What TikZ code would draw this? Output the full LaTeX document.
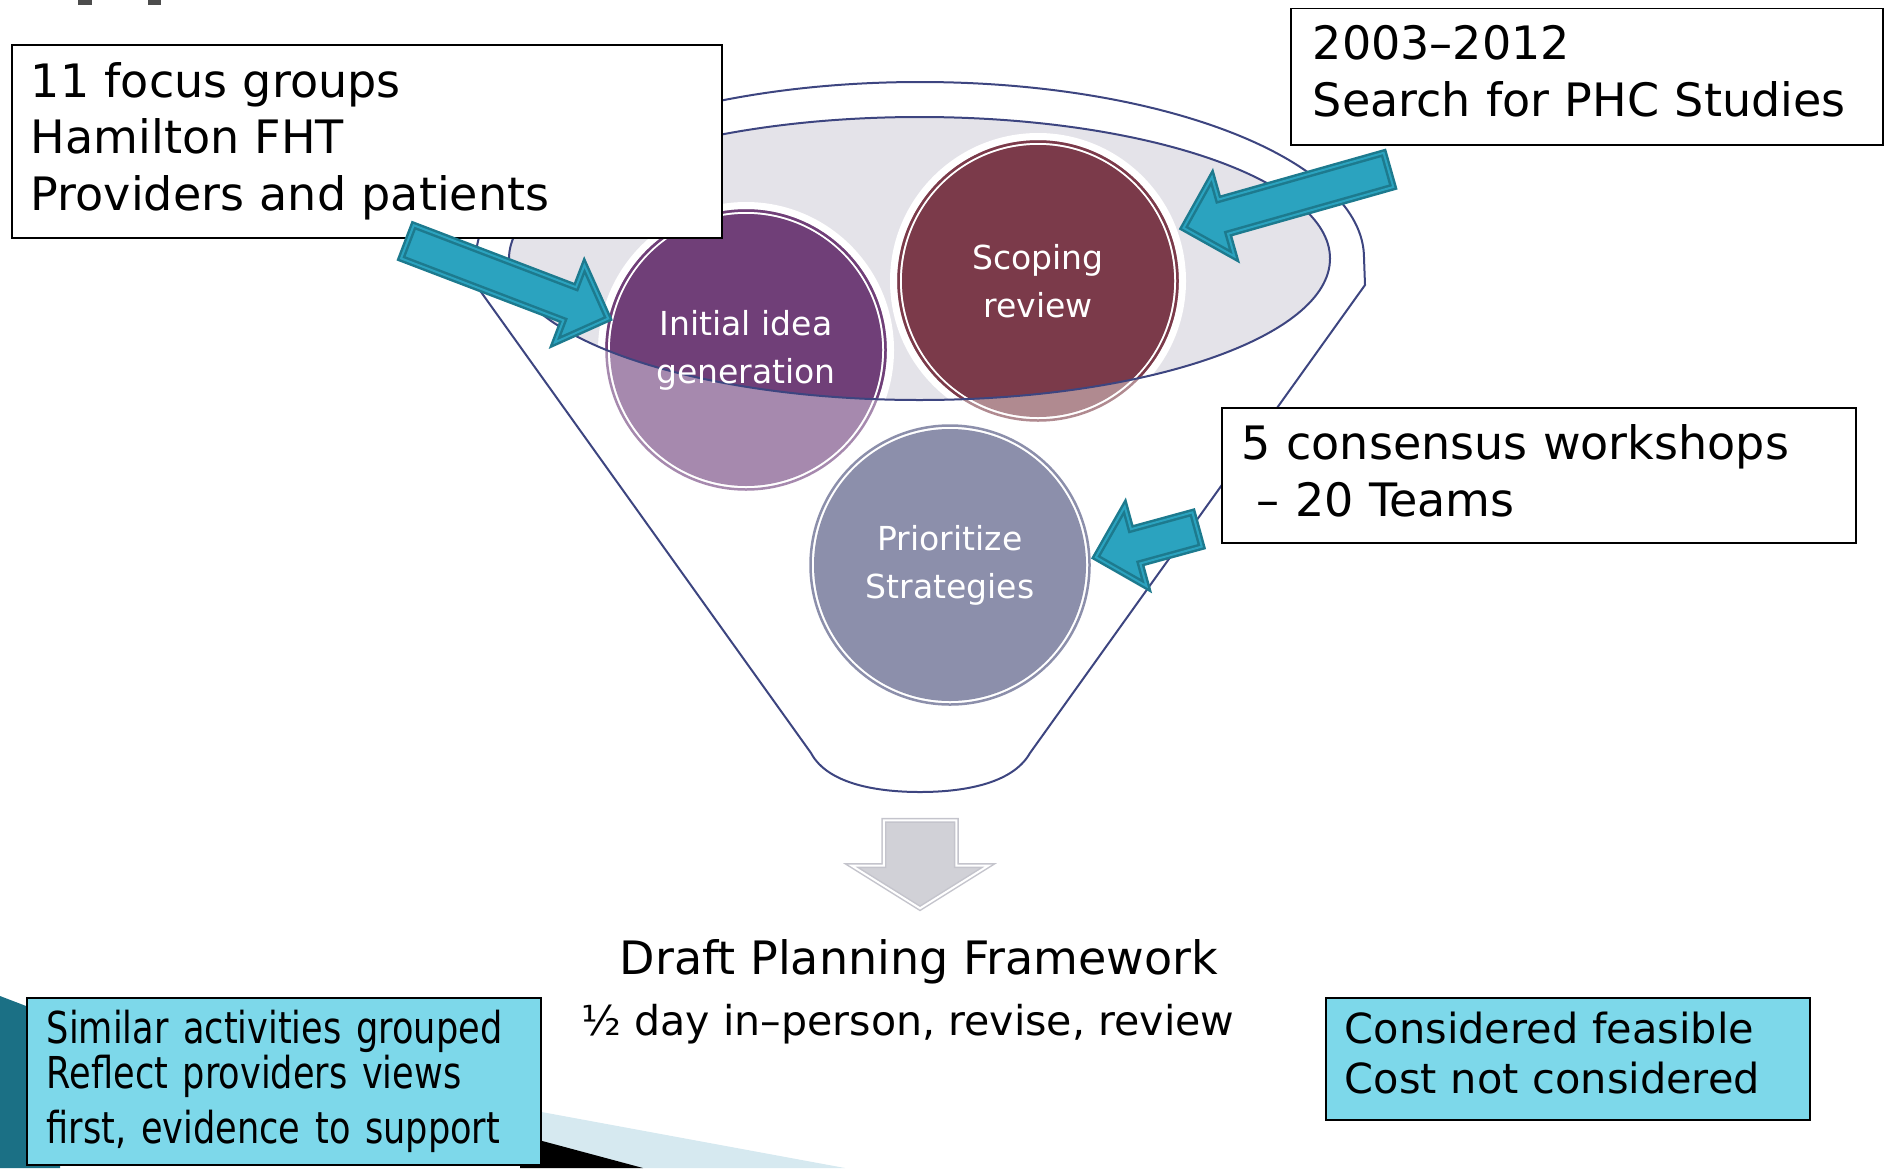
\documentclass[tikz,border=0pt]{standalone}
\usepackage{fontspec}
\setmainfont{DejaVu Sans}
\newfontfamily\narrowfont{DejaVu Sans}[FakeStretch=0.8]
\usetikzlibrary{shapes.arrows}

\definecolor{funnelblue}{HTML}{3D4580}
\definecolor{rimgrey}{HTML}{E4E3E9}
\definecolor{ideadark}{HTML}{703F78}
\definecolor{idealight}{HTML}{A689AE}
\definecolor{scopedark}{HTML}{7B3A4A}
\definecolor{scopelight}{HTML}{B08A90}
\definecolor{priofill}{HTML}{8C8FAB}
\definecolor{arrowfill}{HTML}{2BA3BF}
\definecolor{arrowedge}{HTML}{1D7A8E}
\definecolor{notecyan}{HTML}{7DD8EA}
\definecolor{downgrey}{HTML}{D1D1D7}
\definecolor{downedge}{HTML}{C4C4CC}
\definecolor{slideteal}{HTML}{1B7085}
\definecolor{slidepale}{HTML}{D6E9F0}

\begin{document}
\begin{tikzpicture}[x=0.1mm, y=-0.1mm,
  funnel/.style={draw=funnelblue, line width=0.2mm},
  stagetext/.style={text=white, align=center, font=\fontsize{9.4}{13.7}\selectfont},
  notebox/.style={draw=black, line width=0.15mm, fill=white, anchor=north west,
    align=left, inner sep=0pt, font=\fontsize{13.1}{16.2}\selectfont},
  cyanbox/.style={notebox, fill=notecyan},
  pointer/.style={single arrow, fill=arrowfill, draw=arrowedge, double=arrowfill,
    line width=0.25mm, double distance=0.2mm, inner sep=0pt, inner ysep=1.65mm,
    single arrow head extend=2.35mm}
]
  \useasboundingbox (0,0) rectangle (1884,1168);

  %% Slide decoration
  \fill[black!70] (78,0) rectangle (92,5);
  \fill[black!70] (148,0) rectangle (161,5);
  \fill[slideteal] (0,996) -- (60,1019) -- (60,1168) -- (0,1168) -- cycle;
  \fill[slidepale] (520,1108) -- (845,1168) -- (520,1168) -- cycle;
  \fill[black] (520,1135) -- (643,1168) -- (520,1168) -- cycle;

  %% Funnel
  \fill[rimgrey] (919.5,258.5) ellipse [x radius=410.5, y radius=141.5];
  \draw[funnel] (476,258) arc[start angle=180, end angle=360, x radius=444, y radius=176]
    -- (1365,285) -- (1030,753)
    .. controls (1012,785) and (960,792) .. (920,792)
    .. controls (880,792) and (828,785) .. (811,753) -- (476,285) -- cycle;

  %% Stages
  \foreach \cx/\cy/\col in {746/350/idealight, 1038/281/scopelight, 950/565/priofill} {
    \fill[white] (\cx,\cy) circle[radius=148];
    \draw[\col, line width=0.25mm] (\cx,\cy) circle[radius=139.5];
    \fill[\col] (\cx,\cy) circle[radius=136];
  }
  \begin{scope}
    \clip (919.5,258.5) ellipse [x radius=410.5, y radius=141.5];
    \foreach \cx/\cy/\col in {746/350/ideadark, 1038/281/scopedark} {
      \draw[\col, line width=0.25mm] (\cx,\cy) circle[radius=139.5];
      \fill[\col] (\cx,\cy) circle[radius=136];
    }
  \end{scope}
  \draw[funnel] (919.5,258.5) ellipse [x radius=410.5, y radius=141.5];

  \node[stagetext] (idea) at (746,350) {Initial idea\\generation};
  \node[stagetext] (scope) at (1038,281) {Scoping\\review};
  \node[stagetext] (prio) at (950,565) {Prioritize\\Strategies};

  %% Result
  \node[single arrow, fill=downgrey, draw=downedge, double=white, line width=0.15mm,
    double distance=0.2mm, minimum height=8.8mm, inner sep=0pt, inner ysep=3.55mm,
    single arrow head extend=3.2mm, single arrow tip angle=116,
    rotate=-90] (down) at (920,853) {};
  \node[font=\fontsize{13.1}{17.6}\selectfont] (draft) at (919,962)
    {Draft Planning Framework};
  \node[font=\fontsize{11.7}{14}\selectfont] (halfday) at (908,1024)
    {½ day in–person, revise, review};

  %% Notes
  \node[notebox, minimum width=71mm, minimum height=19.3mm, text width=67.2mm]
    (focus) at (11,44) {11 focus groups\\Hamilton FHT\\Providers and patients};
  \node[notebox, minimum width=59.2mm, minimum height=13.6mm, text width=54.8mm,
    text depth=6.9mm] (search) at (1290,8) {2003–2012\\Search for PHC Studies};
  \node[notebox, minimum width=63.4mm, minimum height=13.5mm, text width=59.4mm,
    text depth=6.7mm] (consensus) at (1221,407)
    {5 consensus workshops\\\hspace*{1.5mm}– 20 Teams};
  \node[cyanbox, minimum width=51.4mm, minimum height=16.7mm, text width=47.4mm,
    font=\narrowfont\fontsize{12.5}{12.8}\selectfont]
    (grouped) at (26,997) {Similar activities grouped\\Reflect providers views\\[1mm]first, evidence to support};
  \node[cyanbox, minimum width=48.4mm, minimum height=12.2mm, text width=44.6mm,
    text depth=6.2mm, font=\fontsize{11.8}{14.2}\selectfont]
    (feasible) at (1325,997) {Considered feasible\\Cost not considered};

  %% Pointers
  \node[pointer, minimum height=21.5mm, rotate=-20.9] (p1) at (499.5,277) {};
  \node[pointer, minimum height=21.3mm, rotate=195.8] (p2) at (1294.5,196.5) {};
  \node[pointer, minimum height=10.5mm, rotate=195.3] (p3) at (1155,541) {};
\end{tikzpicture}
\end{document}
